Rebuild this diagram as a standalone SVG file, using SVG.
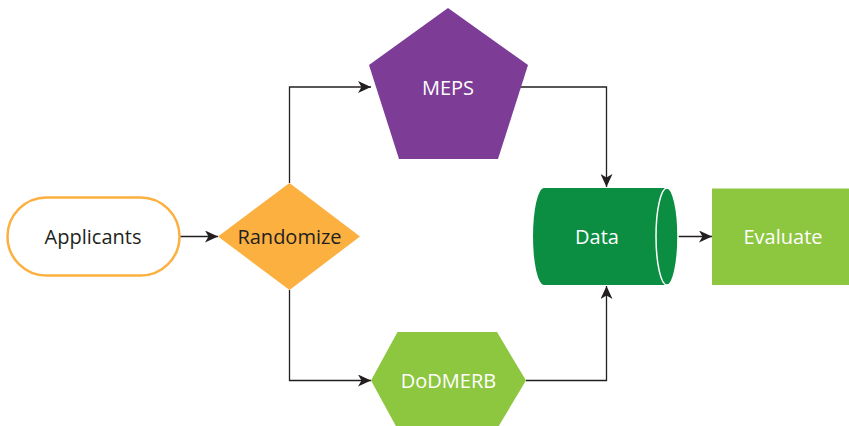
<svg xmlns="http://www.w3.org/2000/svg" width="849" height="426" viewBox="0 0 849 426">
<style>
.lbl{font-family:"Open Sans","Noto Sans","Liberation Sans",sans-serif;font-size:20px;text-anchor:middle;dominant-baseline:central}
.dark{fill:#231F20}
.light{fill:#FFFFFF}
.conn{fill:none;stroke:#231F20;stroke-width:1.3}
</style>
<defs>
<marker id="ah" markerWidth="14" markerHeight="12" refX="13" refY="6" orient="auto" markerUnits="userSpaceOnUse">
<path d="M0,0 L13,6 L0,12 L3.5,6 Z" fill="#231F20"/>
</marker>
</defs>
<g id="connectors">
<path class="conn" d="M180,236.5 H218" marker-end="url(#ah)"/>
<path class="conn" d="M289.5,183 V87 H371" marker-end="url(#ah)"/>
<path class="conn" d="M289.5,290 V380.5 H371" marker-end="url(#ah)"/>
<path class="conn" d="M520,87 H606.5 V187" marker-end="url(#ah)"/>
<path class="conn" d="M526,380.5 H606.5 V286" marker-end="url(#ah)"/>
<path class="conn" d="M678,236.5 H712" marker-end="url(#ah)"/>
</g>
<g id="applicants">
<rect x="7.5" y="197.5" width="172" height="78" rx="39" ry="39" fill="#FFFFFF" stroke="#FBB040" stroke-width="2.5"/>
<text class="lbl dark" x="93" y="236">Applicants</text>
</g>
<g id="randomize">
<polygon points="289.5,183 360,236.5 289.5,290 218,236.5" fill="#FBB040"/>
<text class="lbl dark" x="289.5" y="236">Randomize</text>
</g>
<g id="meps">
<polygon points="448,8 528,65 498,159 399,159 369,65" fill="#7D3C96"/>
<text class="lbl light" x="448" y="87">MEPS</text>
</g>
<g id="dodmerb">
<polygon points="371,380.5 397.5,332 497,332 526,380.5 497,429 397.5,429" fill="#8DC63F"/>
<text class="lbl light" x="448.5" y="380">DoDMERB</text>
</g>
<g id="data">
<path d="M544,188 H667 V285 H544 A11,48.5 0 0 1 544,188 Z" fill="#0B8E42"/>
<ellipse cx="667" cy="236.5" rx="11" ry="48.5" fill="#0B8E42" stroke="#FFFFFF" stroke-width="1.5"/>
<text class="lbl light" x="597" y="236">Data</text>
</g>
<g id="evaluate">
<rect x="712" y="188.5" width="137" height="96.5" fill="#8DC63F"/>
<text class="lbl light" x="783" y="236">Evaluate</text>
</g>
</svg>
